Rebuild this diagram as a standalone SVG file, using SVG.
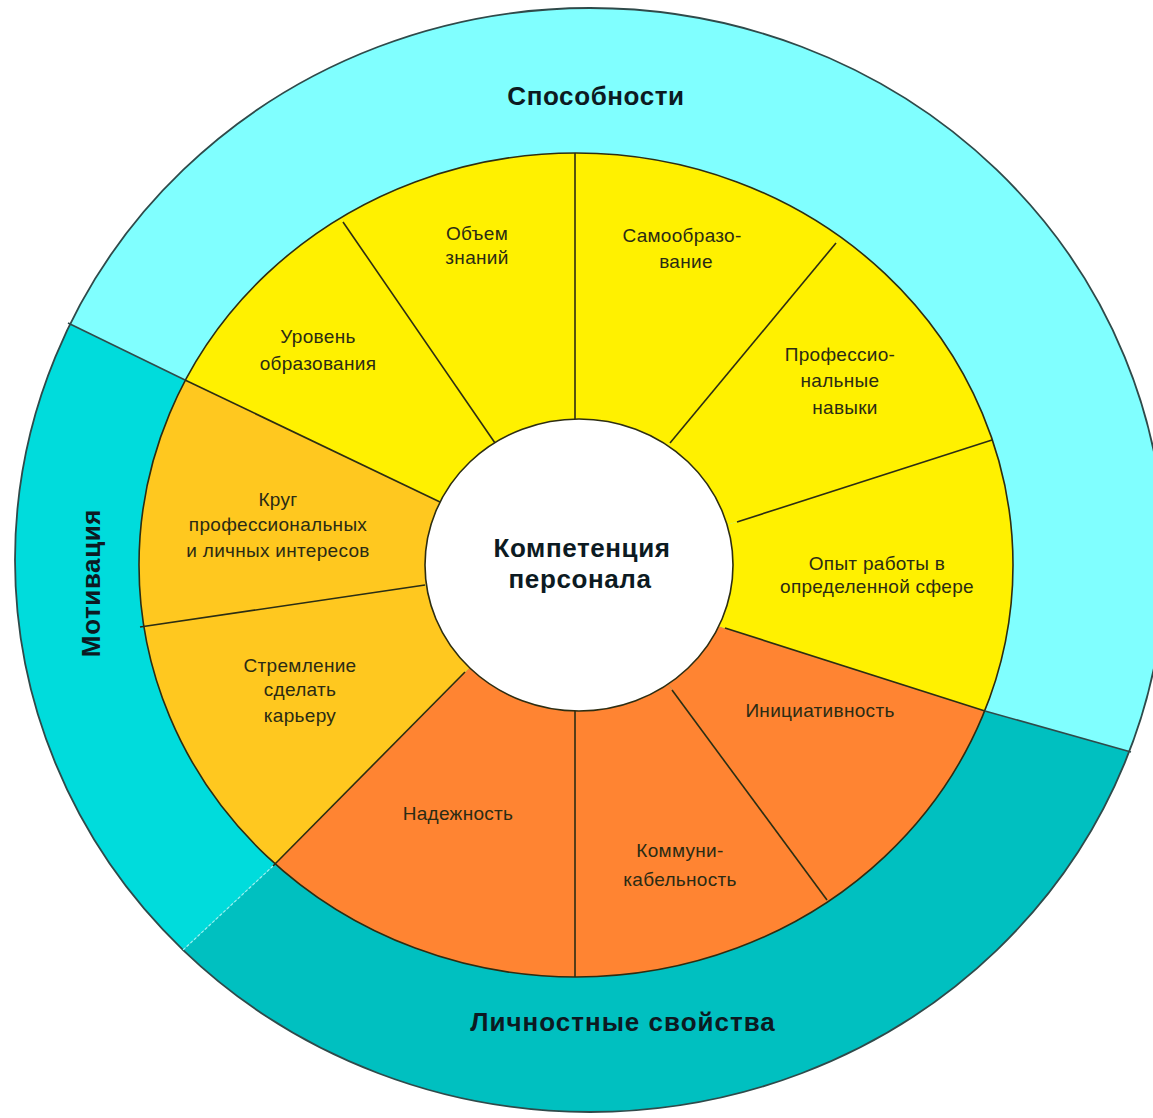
<svg xmlns="http://www.w3.org/2000/svg" width="1153" height="1118" viewBox="0 0 1153 1118">
<defs>
<style>
.sy{fill:#FFF100}
.sa{fill:#FFC81F}
.so{fill:#FF8432}
.ln{stroke:#2d2d12;stroke-width:1.6;fill:none}
.lbl{font-family:"Liberation Sans",Arial,sans-serif;font-size:19px;fill:#2b2b14;text-anchor:middle;letter-spacing:0.3px}
.ttl{font-family:"Liberation Sans",Arial,sans-serif;font-weight:bold;font-size:26px;fill:#0c1a22;text-anchor:middle;letter-spacing:0.6px}
</style>
<clipPath id="clipOuter"><ellipse cx="590" cy="560" rx="575" ry="552"/></clipPath>
<clipPath id="clipRing"><ellipse cx="576" cy="565" rx="437" ry="412"/></clipPath>
</defs>
<rect width="1153" height="1118" fill="#ffffff"/>

<g id="outer-ring" clip-path="url(#clipOuter)">
  <g id="sposobnosti">
    <polygon fill="#80FFFF" points="478,520 185,380 -166,209 -166,-300 1500,-300 1500,834 1423,834 985,711 686,616"/>
  </g>
  <g id="motivatsiya">
    <polygon fill="#00DCDC" points="494,643 273,866 3,1118 -300,1118 -300,209 -166,209 185,380 478,520"/>
  </g>
  <g id="lichnostnye">
    <polygon fill="#00C0C0" points="686,616 985,711 1423,834 1423,1400 3,1400 3,1118 273,866 494,643"/>
  </g>
</g>
<ellipse cx="590" cy="560" rx="575" ry="552" fill="none" stroke="#2f4a4a" stroke-width="1.8"/>

<g id="segments" clip-path="url(#clipRing)">
  <g id="seg-obem"><polygon class="sy" points="518,476 191,1 575,-113 575,459"/></g>
  <g id="seg-samoobr"><polygon class="sy" points="575,459 575,-113 1002,43 645,473"/></g>
  <g id="seg-prof"><polygon class="sy" points="645,473 1002,43 1247,358 699,534"/></g>
  <g id="seg-opyt"><polygon class="sy" points="699,534 1247,358 1245,794 686,616"/></g>
  <g id="seg-inic"><polygon class="so" points="686,616 1245,794 982,1110 649,658"/></g>
  <g id="seg-komm"><polygon class="so" points="649,658 982,1110 575,1243 575,671"/></g>
  <g id="seg-nadezh"><polygon class="so" points="575,671 575,1243 81,1060 494,643"/></g>
  <g id="seg-strem"><polygon class="sa" points="494,643 81,1060 -145,669 468,579"/></g>
  <g id="seg-krug"><polygon class="sa" points="468,579 -145,669 -70,258 478,520"/></g>
  <g id="seg-uroven"><polygon class="sy" points="478,520 -70,258 191,1 518,476"/></g>
</g>
<ellipse cx="576" cy="565" rx="437" ry="412" class="ln"/>

<g id="connectors">
  <line class="ln" x1="575" y1="419" x2="575" y2="153"/>
  <line class="ln" x1="670" y1="443" x2="836" y2="243"/>
  <line class="ln" x1="737" y1="522" x2="992" y2="440"/>
  <line class="ln" x1="725" y1="628" x2="985" y2="711"/>
  <line class="ln" x1="672" y1="690" x2="827" y2="900"/>
  <line class="ln" x1="575" y1="711" x2="575" y2="977"/>
  <line class="ln" x1="465" y1="672" x2="273" y2="866"/>
  <line class="ln" x1="425" y1="585" x2="140" y2="627"/>
  <line class="ln" x1="440" y1="502" x2="185" y2="380"/>
  <line class="ln" x1="495" y1="443" x2="343" y2="222"/>
  <line x1="185" y1="380" x2="68" y2="323" stroke="#2f4a4a" stroke-width="1.6"/>
  <line x1="985" y1="711" x2="1131" y2="752" stroke="#2f4a4a" stroke-width="1.6"/>
  <line x1="273" y1="866" x2="183" y2="950" stroke="#9ef0f0" stroke-width="1.2" stroke-dasharray="3 2"/>
</g>

<g id="center">
  <ellipse cx="579" cy="565" rx="154" ry="146" fill="#ffffff" stroke="#2d2d12" stroke-width="1.6"/>
  <text class="ttl" x="582" y="557">Компетенция</text>
  <text class="ttl" x="580" y="588">персонала</text>
</g>

<g id="labels-outer">
  <text class="ttl" x="596" y="105">Способности</text>
  <text class="ttl" transform="translate(100,583) rotate(-90)" x="0" y="0">Мотивация</text>
  <text class="ttl" x="623" y="1031" style="letter-spacing:1px">Личностные свойства</text>
</g>

<g id="labels-segments">
  <text class="lbl" x="477" y="240">Объем</text>
  <text class="lbl" x="477" y="264">знаний</text>
  <text class="lbl" x="682" y="242">Самообразо-</text>
  <text class="lbl" x="686" y="268">вание</text>
  <text class="lbl" x="318" y="343">Уровень</text>
  <text class="lbl" x="318" y="370">образования</text>
  <text class="lbl" x="840" y="361">Профессио-</text>
  <text class="lbl" x="840" y="387">нальные</text>
  <text class="lbl" x="845" y="414">навыки</text>
  <text class="lbl" x="278" y="506">Круг</text>
  <text class="lbl" x="278" y="531">профессиональных</text>
  <text class="lbl" x="278" y="557">и личных интересов</text>
  <text class="lbl" x="877" y="570">Опыт работы в</text>
  <text class="lbl" x="877" y="593">определенной сфере</text>
  <text class="lbl" x="300" y="672">Стремление</text>
  <text class="lbl" x="300" y="696">сделать</text>
  <text class="lbl" x="300" y="722">карьеру</text>
  <text class="lbl" x="820" y="717">Инициативность</text>
  <text class="lbl" x="458" y="820">Надежность</text>
  <text class="lbl" x="680" y="857">Коммуни-</text>
  <text class="lbl" x="680" y="886">кабельность</text>
</g>
</svg>
